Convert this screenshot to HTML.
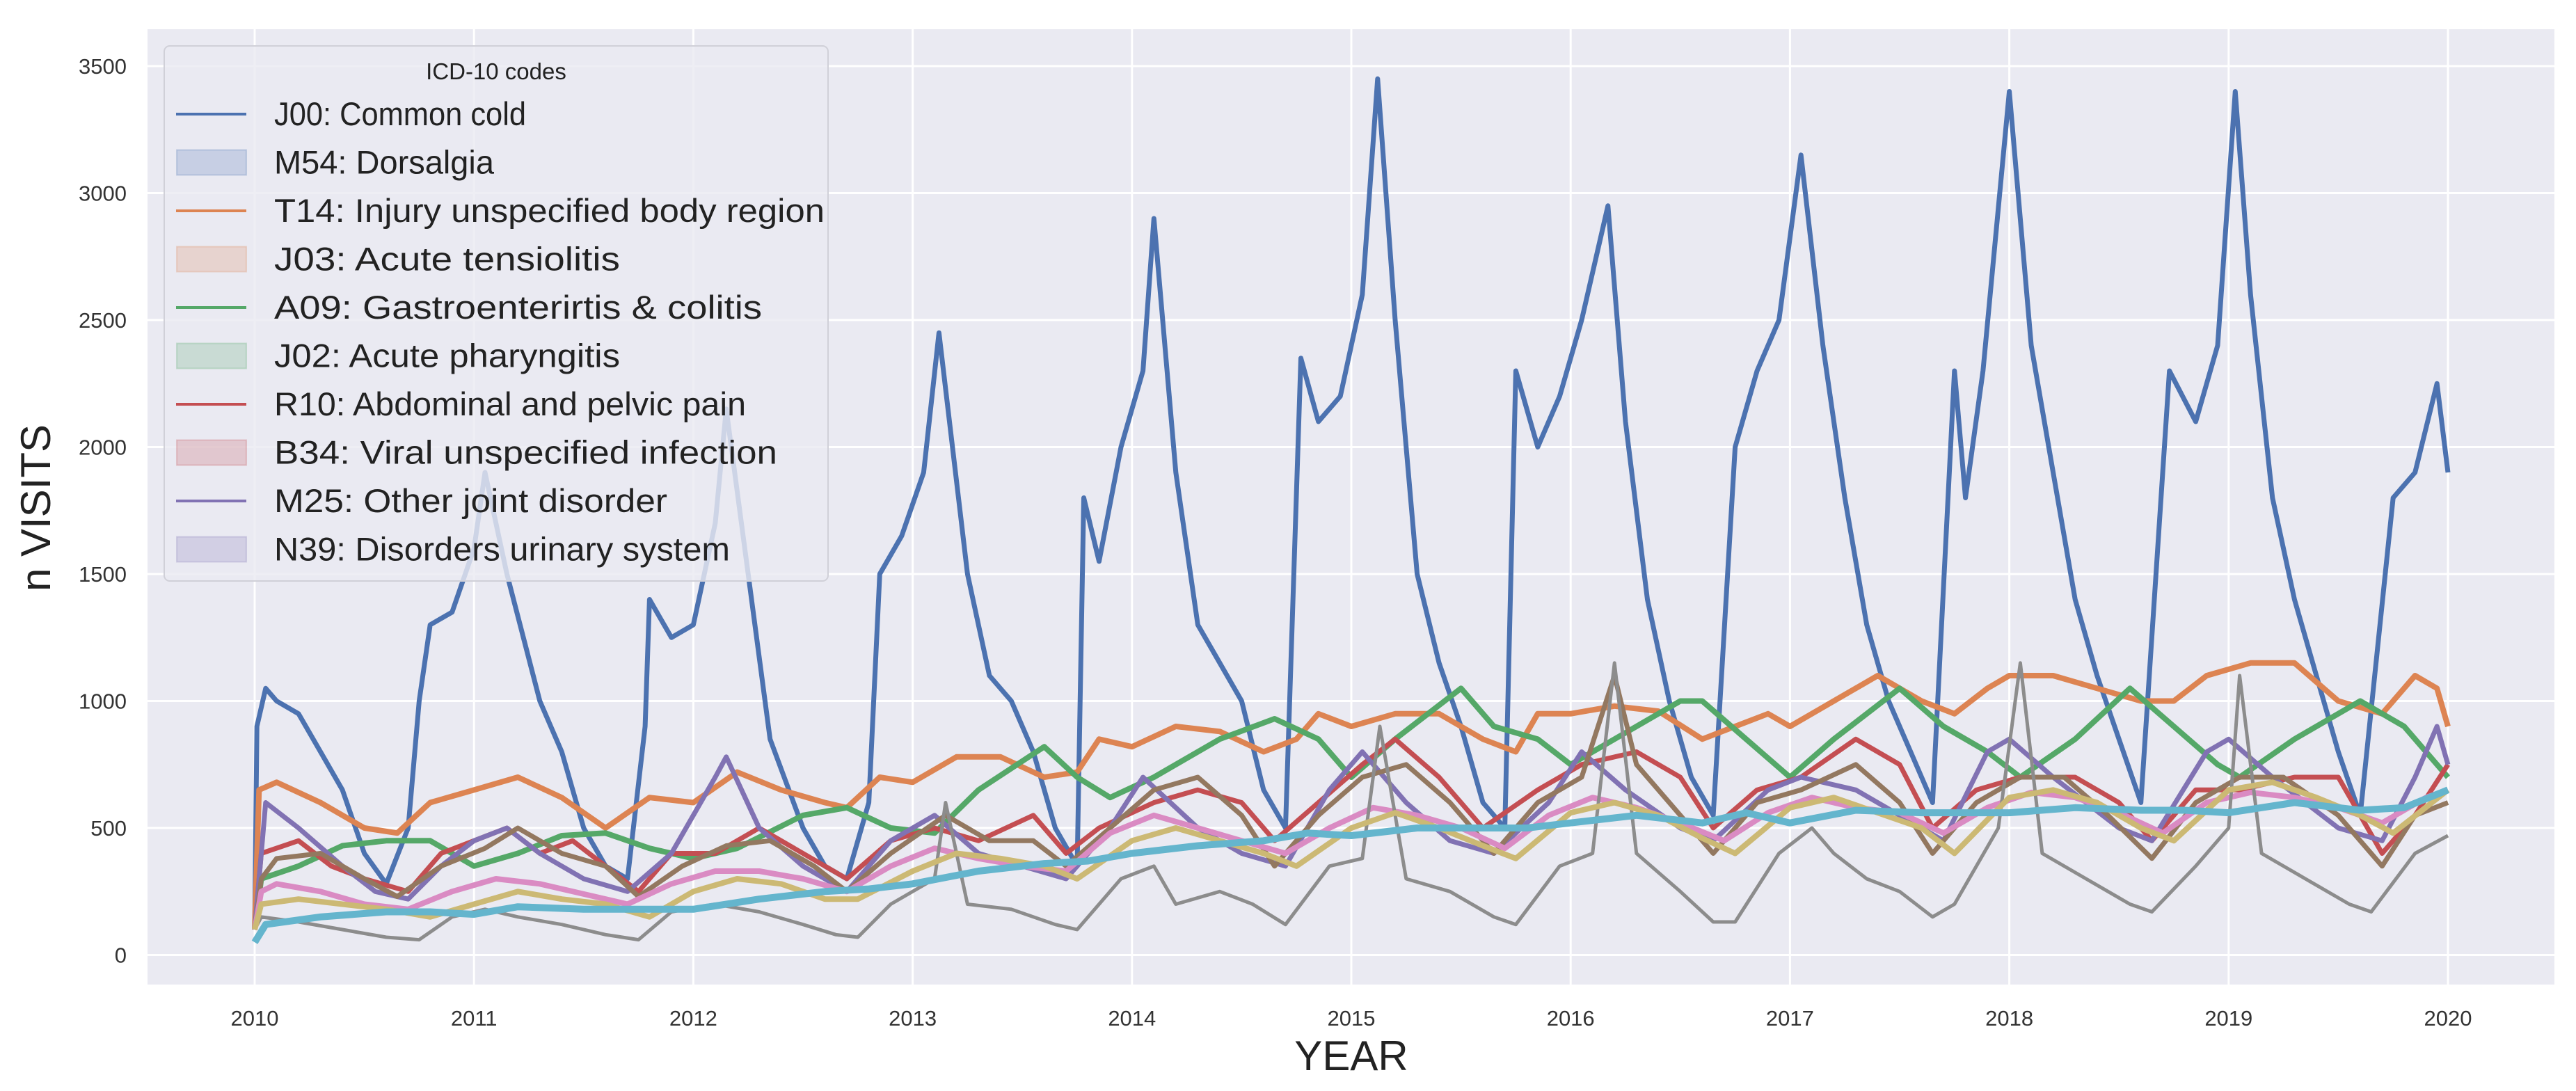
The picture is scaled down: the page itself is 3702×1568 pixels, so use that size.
<!DOCTYPE html>
<html><head><meta charset="utf-8"><style>
html,body{margin:0;padding:0;background:#fff;}
svg{display:block;font-family:"Liberation Sans",Arial,sans-serif;}
</style></head><body>
<svg id="chart" width="3702" height="1568" viewBox="0 0 3702 1568" xmlns="http://www.w3.org/2000/svg">
<rect x="0" y="0" width="3702" height="1568" fill="#ffffff"/>
<rect x="212" y="42" width="3459" height="1373" fill="#eaeaf2"/>
<g id="grid"></g>
<g id="ticks"></g>
<g id="series"></g>
<g id="legend"></g>
<text x="72" y="730" font-size="60" fill="#222" text-anchor="middle" transform="rotate(-90 72 730)">n VISITS</text>
<text x="1942" y="1538" font-size="60" fill="#222" text-anchor="middle">YEAR</text>
</svg>
<script>
const yTicks=[0,500,1000,1500,2000,2500,3000,3500];
const xTicks=[2010,2011,2012,2013,2014,2015,2016,2017,2018,2019,2020];
const legendLabels=["J00: Common cold","M54: Dorsalgia","T14: Injury unspecified body region","J03: Acute tensiolitis","A09: Gastroenterirtis & colitis","J02: Acute pharyngitis","R10: Abdominal and pelvic pain","B34: Viral unspecified infection","M25: Other joint disorder","N39: Disorders urinary system"];

const j00T=[2010.0,2010.01,2010.05,2010.1,2010.2,2010.3,2010.4,2010.5,2010.6,2010.7,2010.75,2010.8,2010.9,2011.0,2011.05,2011.15,2011.3,2011.4,2011.5,2011.6,2011.7,2011.78,2011.8,2011.9,2012.0,2012.1,2012.15,2012.25,2012.35,2012.5,2012.6,2012.7,2012.8,2012.85,2012.95,2013.05,2013.12,2013.25,2013.35,2013.45,2013.55,2013.65,2013.75,2013.78,2013.85,2013.95,2014.05,2014.1,2014.2,2014.3,2014.4,2014.5,2014.6,2014.7,2014.77,2014.85,2014.95,2015.05,2015.12,2015.2,2015.3,2015.4,2015.5,2015.6,2015.7,2015.75,2015.85,2015.95,2016.05,2016.17,2016.25,2016.35,2016.45,2016.55,2016.65,2016.75,2016.85,2016.95,2017.05,2017.15,2017.25,2017.35,2017.45,2017.55,2017.65,2017.75,2017.8,2017.88,2018.0,2018.1,2018.2,2018.3,2018.4,2018.5,2018.6,2018.73,2018.85,2018.95,2019.03,2019.1,2019.2,2019.3,2019.4,2019.5,2019.6,2019.75,2019.85,2019.95,2020.0];
const j00V=[100,900,1050,1000,950,800,650,400,280,500,1000,1300,1350,1600,1900,1500,1000,800,500,350,300,900,1400,1250,1300,1700,2150,1500,850,500,350,300,600,1500,1650,1900,2450,1500,1100,1000,800,500,350,1800,1550,2000,2300,2900,1900,1300,1150,1000,650,500,2350,2100,2200,2600,3450,2500,1500,1150,900,600,500,2300,2000,2200,2500,2950,2100,1400,1000,700,550,2000,2300,2500,3150,2400,1800,1300,1000,800,600,2300,1800,2300,3400,2400,1900,1400,1100,850,600,2300,2100,2400,3400,2600,1800,1400,1100,800,550,1800,1900,2250,1900];

const t14T=[2010.0,2010.02,2010.1,2010.3,2010.5,2010.65,2010.8,2011.0,2011.2,2011.4,2011.6,2011.8,2012.0,2012.2,2012.4,2012.6,2012.7,2012.85,2013.0,2013.2,2013.4,2013.6,2013.75,2013.85,2014.0,2014.2,2014.4,2014.6,2014.75,2014.85,2015.0,2015.2,2015.4,2015.6,2015.75,2015.85,2016.0,2016.2,2016.4,2016.6,2016.75,2016.9,2017.0,2017.2,2017.4,2017.6,2017.75,2017.9,2018.0,2018.2,2018.4,2018.6,2018.75,2018.9,2019.1,2019.3,2019.5,2019.7,2019.85,2019.95,2020.0];
const t14V=[100,650,680,600,500,480,600,650,700,620,500,620,600,720,650,600,580,700,680,780,780,700,720,850,820,900,880,800,850,950,900,950,950,850,800,950,950,980,960,850,900,950,900,1000,1100,1000,950,1050,1100,1100,1050,1000,1000,1100,1150,1150,1000,950,1100,1050,900];

const a09T=[2010.0,2010.03,2010.2,2010.4,2010.6,2010.8,2011.0,2011.2,2011.4,2011.6,2011.8,2012.0,2012.2,2012.5,2012.7,2012.9,2013.1,2013.3,2013.6,2013.75,2013.9,2014.1,2014.4,2014.65,2014.85,2015.0,2015.2,2015.5,2015.65,2015.85,2016.0,2016.2,2016.5,2016.6,2016.8,2017.0,2017.2,2017.5,2017.7,2017.9,2018.05,2018.3,2018.55,2018.75,2018.95,2019.05,2019.3,2019.6,2019.8,2019.95,2020.0];
const a09V=[100,300,350,430,450,450,350,400,470,480,420,380,420,550,580,500,480,650,820,700,620,700,850,930,850,700,850,1050,900,850,750,850,1000,1000,850,700,850,1050,900,800,700,850,1050,900,750,700,850,1000,900,750,700];

const r10T=[2010.0,2010.03,2010.2,2010.35,2010.5,2010.7,2010.85,2011.0,2011.15,2011.3,2011.45,2011.6,2011.75,2011.9,2012.1,2012.3,2012.5,2012.7,2012.9,2013.1,2013.3,2013.55,2013.7,2013.85,2014.1,2014.3,2014.5,2014.65,2014.85,2015.05,2015.2,2015.4,2015.6,2015.85,2016.05,2016.3,2016.5,2016.65,2016.85,2017.05,2017.3,2017.5,2017.65,2017.85,2018.05,2018.3,2018.5,2018.65,2018.85,2019.05,2019.3,2019.5,2019.7,2019.85,2020.0];
const r10V=[100,400,450,350,300,250,400,450,500,400,450,350,250,400,400,500,400,300,450,500,450,550,400,500,600,650,600,450,600,750,850,700,500,650,750,800,700,500,650,700,850,750,500,650,700,700,600,450,650,650,700,700,400,550,750];

const m25T=[2010.0,2010.05,2010.2,2010.4,2010.55,2010.7,2010.85,2011.0,2011.15,2011.3,2011.5,2011.7,2011.9,2012.1,2012.15,2012.3,2012.5,2012.7,2012.9,2013.1,2013.3,2013.5,2013.7,2013.9,2014.05,2014.3,2014.5,2014.7,2014.9,2015.05,2015.25,2015.45,2015.65,2015.9,2016.05,2016.25,2016.5,2016.65,2016.9,2017.05,2017.3,2017.5,2017.7,2017.9,2018.0,2018.2,2018.5,2018.65,2018.9,2019.0,2019.2,2019.5,2019.7,2019.85,2019.95,2020.0];
const m25V=[100,600,500,350,250,220,350,450,500,400,300,250,400,700,780,500,350,250,450,550,400,350,300,500,700,500,400,350,650,800,600,450,400,600,800,650,500,450,650,700,650,550,450,800,850,700,500,450,800,850,700,500,450,700,900,750];

const brownT=[2010.0,2010.03,2010.1,2010.3,2010.5,2010.65,2010.85,2011.05,2011.2,2011.4,2011.6,2011.75,2011.95,2012.15,2012.35,2012.55,2012.7,2012.9,2013.15,2013.35,2013.55,2013.7,2013.9,2014.1,2014.3,2014.5,2014.65,2014.85,2015.05,2015.25,2015.45,2015.65,2015.85,2016.05,2016.2,2016.3,2016.5,2016.65,2016.85,2017.05,2017.3,2017.5,2017.65,2017.85,2018.05,2018.25,2018.45,2018.65,2018.85,2019.05,2019.25,2019.5,2019.7,2019.85,2020.0];
const brownV=[100,300,380,400,300,230,350,420,500,400,350,230,350,430,450,350,250,400,550,450,450,350,500,650,700,550,350,550,700,750,600,400,600,700,1100,750,550,400,600,650,750,600,400,600,700,700,550,380,600,700,700,550,350,550,600];

const pinkT=[2010.0,2010.03,2010.1,2010.3,2010.5,2010.7,2010.9,2011.1,2011.3,2011.5,2011.7,2011.9,2012.1,2012.3,2012.5,2012.7,2012.9,2013.1,2013.3,2013.5,2013.7,2013.9,2014.1,2014.3,2014.5,2014.7,2014.9,2015.1,2015.3,2015.5,2015.7,2015.9,2016.1,2016.3,2016.5,2016.7,2016.9,2017.1,2017.3,2017.5,2017.7,2017.9,2018.1,2018.3,2018.5,2018.7,2018.9,2019.1,2019.3,2019.5,2019.7,2019.9,2020.0];
const pinkV=[100,250,280,250,200,180,250,300,280,240,200,280,330,330,300,250,350,420,380,350,330,480,550,500,450,400,500,580,550,500,420,550,620,580,520,450,560,620,580,560,480,580,640,620,560,480,600,640,620,580,520,620,650];

const grayT=[2010.0,2010.03,2010.2,2010.4,2010.6,2010.75,2010.9,2011.05,2011.2,2011.4,2011.6,2011.75,2011.9,2012.1,2012.3,2012.5,2012.65,2012.75,2012.9,2013.1,2013.15,2013.25,2013.45,2013.65,2013.75,2013.95,2014.1,2014.2,2014.4,2014.55,2014.7,2014.9,2015.05,2015.13,2015.25,2015.45,2015.65,2015.75,2015.95,2016.1,2016.2,2016.3,2016.5,2016.65,2016.75,2016.95,2017.1,2017.2,2017.35,2017.5,2017.65,2017.75,2017.95,2018.05,2018.15,2018.35,2018.55,2018.65,2018.85,2019.0,2019.05,2019.15,2019.35,2019.55,2019.65,2019.85,2020.0];
const grayV=[100,150,130,100,70,60,150,180,150,120,80,60,170,200,170,120,80,70,200,300,600,200,180,120,100,300,350,200,250,200,120,350,380,900,300,250,150,120,350,400,1150,400,250,130,130,400,500,400,300,250,150,200,500,1150,400,300,200,170,350,500,1100,400,300,200,170,400,470];

const oliveT=[2010.0,2010.03,2010.2,2010.4,2010.6,2010.8,2011.0,2011.2,2011.4,2011.6,2011.8,2012.0,2012.2,2012.4,2012.6,2012.75,2013.0,2013.2,2013.4,2013.6,2013.75,2014.0,2014.2,2014.4,2014.6,2014.75,2015.0,2015.2,2015.4,2015.6,2015.75,2016.0,2016.2,2016.4,2016.6,2016.75,2017.0,2017.2,2017.4,2017.6,2017.75,2018.0,2018.2,2018.4,2018.6,2018.75,2019.0,2019.2,2019.4,2019.6,2019.75,2020.0];
const oliveV=[100,200,220,200,180,150,200,250,220,200,150,250,300,280,220,220,330,400,380,350,300,450,500,450,400,350,500,560,500,430,380,560,600,550,460,400,580,620,560,500,400,620,650,600,500,450,650,680,620,550,480,650];

const cyanT=[2010.0,2010.05,2010.3,2010.6,2010.8,2011.0,2011.2,2011.5,2011.8,2012.0,2012.3,2012.6,2012.8,2013.0,2013.3,2013.6,2013.8,2014.0,2014.3,2014.6,2014.8,2015.0,2015.3,2015.6,2015.8,2016.0,2016.3,2016.6,2016.8,2017.0,2017.3,2017.6,2017.8,2018.0,2018.3,2018.6,2018.8,2019.0,2019.3,2019.6,2019.8,2020.0];
const cyanV=[50,120,150,170,170,160,190,180,180,180,220,250,260,280,330,360,370,400,430,450,480,470,500,500,500,520,550,520,560,520,570,560,560,560,580,570,570,560,600,570,580,650];

const NS="http://www.w3.org/2000/svg";
const PL=212,PR=3671,PT=42,PB=1415;
function xScale(v){return 366+(v-2010)*315.2;}
function yScale(v){return 1372.5-v*0.365;}
function mk(tag,attrs,parent){const e=document.createElementNS(NS,tag);for(const k in attrs)e.setAttribute(k,attrs[k]);parent.appendChild(e);return e;}
const grid=document.getElementById('grid'),ticks=document.getElementById('ticks');
yTicks.forEach(v=>{
  const l=mk('line',{x1:PL,x2:PR,y1:yScale(v),y2:yScale(v),stroke:'#fff','stroke-width':3},grid);
  
  
  const t=mk('text',{x:182,y:yScale(v)+11,'font-size':31,fill:'#333','text-anchor':'end'},ticks);
  t.textContent=v;
  
  
});
xTicks.forEach(v=>{
  const l=mk('line',{x1:xScale(v),x2:xScale(v),y1:PT,y2:PB,stroke:'#fff','stroke-width':3},grid);
  
  
  const t=mk('text',{x:xScale(v),y:1474,'font-size':31,fill:'#333','text-anchor':'middle'},ticks);
  t.textContent=v;
  
  
});
const seriesList=[
 ['j00',j00T,j00V,'#4c72b0',7],
 ['t14',t14T,t14V,'#dd8452',8],
 ['a09',a09T,a09V,'#55a868',8],
 ['r10',r10T,r10V,'#c44e52',7],
 ['m25',m25T,m25V,'#8172b3',7],
 ['brown',brownT,brownV,'#937860',7],
 ['pink',pinkT,pinkV,'#da8bc3',8],
 ['gray',grayT,grayV,'#8c8c8c',5],
 ['olive',oliveT,oliveV,'#ccb974',8],
 ['cyan',cyanT,cyanV,'#64b5cd',10]
];
const sg=document.getElementById('series');
seriesList.forEach(s=>{
  const d=s[1].map((t,i)=>(i?'L':'M')+xScale(t).toFixed(1)+' '+yScale(s[2][i]).toFixed(1)).join(' ');
  const p=mk('path',{d:d,fill:'none',stroke:s[3],'stroke-width':s[4],'stroke-linejoin':'round'},sg);
  
  
});
// legend
const lg=document.getElementById('legend');
const box=mk('rect',{x:236,y:66,width:954,height:769,rx:8,fill:'#eaeaf2','fill-opacity':0.82,stroke:'#d0d0d8','stroke-width':2},lg);


const title=mk('text',{x:713,y:114,'font-size':33,fill:'#222','text-anchor':'middle'},lg);
title.textContent='ICD-10 codes';


const lcols=['#4c72b0','#4c72b0','#dd8452','#dd8452','#55a868','#55a868','#c44e52','#c44e52','#8172b3','#8172b3'];
legendLabels.forEach((lab,i)=>{
  const y=164+i*69.5;
  const g=mk('g',{},lg);
  
  
  if(i%2===0){mk('line',{x1:253,x2:354,y1:y,y2:y,stroke:lcols[i],'stroke-width':4},g);}
  else{mk('rect',{x:254,y:y-18,width:100,height:36,fill:lcols[i],'fill-opacity':0.22,stroke:lcols[i],'stroke-opacity':0.25,'stroke-width':2},g);}
  const t=mk('text',{x:394,y:y+16,'font-size':47,fill:'#222',textLength:(lab.length*22.6).toFixed(0),lengthAdjust:'spacingAndGlyphs'},g);
  t.textContent=lab;
});
</script>
</body></html>
